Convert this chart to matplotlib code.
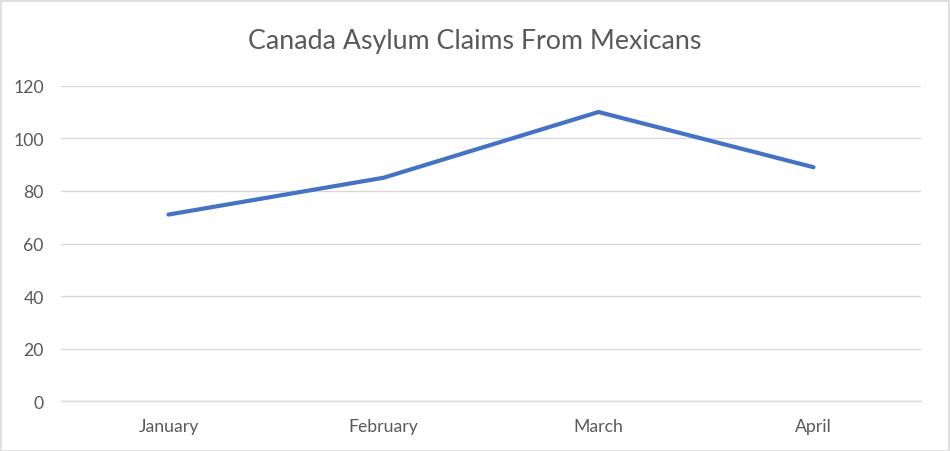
import matplotlib
matplotlib.use("Agg")
import matplotlib.pyplot as plt
from matplotlib.patches import Rectangle

# Data
months = ['January', 'February', 'March', 'April']
claims = [71, 85, 110, 89]
yticks = [0, 20, 40, 60, 80, 100, 120]

plt.rcParams['font.family'] = ['Lato', 'DejaVu Sans']
text_color = '#595959'
grid_color = '#D9D9D9'

fig = plt.figure(figsize=(9.5, 4.52), dpi=100)
ax = fig.add_axes([61 / 950, 1 - 402.3 / 452, 860 / 950, (402.3 - 86.7) / 452])

x = range(len(months))
ax.plot(x, claims, color='#4472C4', linewidth=3, solid_capstyle='round',
        solid_joinstyle='round', zorder=3)

ax.set_xlim(-0.5, len(months) - 0.5)
ax.set_ylim(0, 120)
ax.set_yticks(yticks)
ax.set_xticks(list(x))
ax.set_xticklabels(months)

ax.grid(axis='y', color=grid_color, linewidth=1)
ax.set_axisbelow(True)
for s in ['top', 'left', 'right']:
    ax.spines[s].set_visible(False)
ax.spines['bottom'].set_color(grid_color)
ax.spines['bottom'].set_linewidth(1)
ax.tick_params(length=0, colors=text_color, labelsize=12.7)
ax.tick_params(axis='y', pad=12.5)
ax.tick_params(axis='x', pad=12)

fig.text(0.5, 1 - 41 / 452, 'Canada Asylum Claims From Mexicans', ha='center',
         va='center', fontsize=19.3, color=text_color)

# light border around the chart
fig.patches.append(Rectangle((0.5 / 950, 0.5 / 452), 948 / 950, 450 / 452,
                             transform=fig.transFigure, fill=False,
                             edgecolor=grid_color, linewidth=1.2))

fig.savefig('out.png', dpi=100)
